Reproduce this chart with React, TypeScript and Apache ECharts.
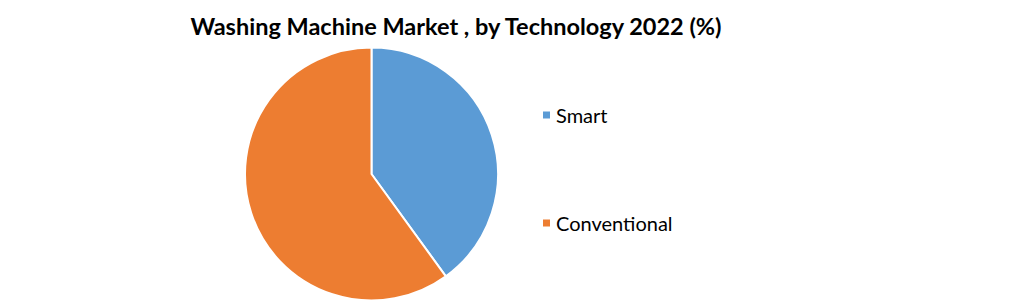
import React, { useEffect, useRef } from "react";
import * as echarts from "echarts";

const categories = ["Smart", "Conventional"];
const values = [40, 60];
const colors = ["#5B9BD5", "#ED7D31"];
const titleText = "Washing Machine Market , by Technology 2022 (%)";

export default function App() {
  const ref = useRef<HTMLDivElement>(null);
  useEffect(() => {
    const chart = echarts.init(ref.current!, null, { renderer: "svg" });
    chart.setOption({
      animation: false,
      backgroundColor: "#ffffff",
      title: {
        text: titleText,
        left: 451,
        textAlign: "center",
        top: 9,
        textStyle: { fontFamily: "Lato", fontWeight: "bold", fontSize: 23.5, color: "#000000" },
      },
      legend: categories.map((c, i) => ({
        data: [c],
        left: 541,
        top: i === 0 ? 105 : 213,
        itemWidth: 9,
        itemHeight: 9,
        icon: "rect",
        itemGap: 0,
        textStyle: { fontFamily: "Lato", fontSize: 20, color: "#000000", padding: [0, 0, 0, 0] },
        padding: 0,
      })),
      series: [
        {
          type: "pie",
          center: [371.5, 174],
          radius: 126.5,
          startAngle: 90,
          clockwise: true,
          label: { show: false },
          labelLine: { show: false },
          itemStyle: { borderColor: "#ffffff", borderWidth: 2 },
          data: categories.map((c, i) => ({ name: c, value: values[i], itemStyle: { color: colors[i] } })),
        },
      ],
    });
    return () => chart.dispose();
  }, []);
  return <div ref={ref} style={{ position: "absolute", left: 0, top: 0, width: 1021, height: 304 }} />;
}
